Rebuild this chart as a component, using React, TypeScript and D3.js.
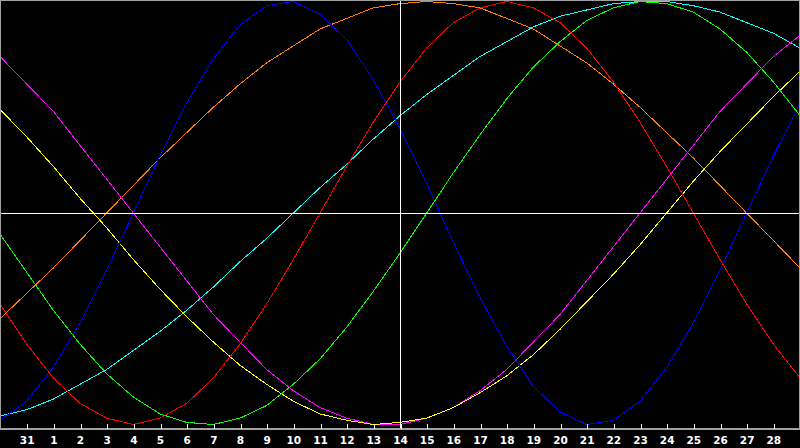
import { useRef, useEffect } from "react";
import * as d3 from "d3";

// one value per day, -100..100, from the left edge (day 0) to the right edge (day 30)
const physical = [-98, -89, -73, -52, -27, 0, 27, 52, 73, 89, 98, 100, 94, 82, 63, 40, 14, -14, -40, -63, -82, -94, -100, -98, -89, -73, -52, -27, 0, 27, 52];
const emotional = [-43, -62, -78, -90, -97, -100, -97, -90, -78, -62, -43, -22, 0, 22, 43, 62, 78, 90, 97, 100, 97, 90, 78, 62, 43, 22, 0, -22, -43, -62, -78];
const intellectual = [-10, -28, -46, -62, -76, -87, -95, -99, -100, -97, -91, -81, -69, -54, -37, -19, 0, 19, 37, 54, 69, 81, 91, 97, 100, 99, 95, 87, 76, 62, 46];
const intuitive = [74, 61, 48, 32, 16, 0, -16, -32, -48, -61, -74, -84, -92, -97, -100, -100, -97, -92, -84, -74, -61, -48, -32, -16, 0, 16, 32, 48, 61, 74, 84];
const aesthetic = [49, 36, 22, 7, -7, -22, -36, -49, -61, -72, -81, -89, -95, -98, -100, -99, -97, -92, -85, -77, -67, -55, -42, -29, -15, 0, 15, 29, 42, 55, 67];
const awareness = [-50, -38, -26, -13, 0, 13, 26, 38, 50, 61, 71, 79, 87, 92, 97, 99, 100, 99, 97, 92, 87, 79, 71, 61, 50, 38, 26, 13, 0, -13, -26];
const spiritual = [-96, -93, -88, -81, -74, -65, -56, -46, -35, -23, -12, 0, 12, 23, 35, 46, 56, 65, 74, 81, 88, 93, 96, 99, 100, 100, 98, 95, 90, 85, 78];

// day-of-month labels for ticks 1..29
const tickLabels = ["31", "1", "2", "3", "4", "5", "6", "7", "8", "9", "10", "11", "12", "13", "14", "15", "16", "17", "18", "19", "20", "21", "22", "23", "24", "25", "26", "27", "28"];

const series = [
  { values: awareness, color: "#ff8000" },
  { values: spiritual, color: "#00ffff" },
  { values: intuitive, color: "#ff00ff" },
  { values: aesthetic, color: "#ffff00" },
  { values: physical, color: "#0000ff" },
  { values: emotional, color: "#ff0000" },
  { values: intellectual, color: "#00ff00" },
];

const W = 800;
const H = 448;
const AXIS_Y = 428;

export default function App() {
  const svgRef = useRef<SVGSVGElement>(null);

  useEffect(() => {
    if (!svgRef.current) return;
    const svg = d3.select(svgRef.current);
    svg.selectAll("*").remove();

    const days = physical.length - 1;
    const x = d3.scaleLinear().domain([0, days]).range([0, W]);
    const y = d3.scaleLinear().domain([-100, 100]).range([424.5, 1.5]);

    svg.append("rect").attr("width", W).attr("height", H).attr("fill", "#000");

    // curves
    const line = d3
      .line<number>()
      .x((_, i) => x(i))
      .y((d) => y(d));

    for (const s of series) {
      svg
        .append("path")
        .attr("d", line(s.values))
        .attr("fill", "none")
        .attr("stroke", s.color)
        .attr("stroke-width", 1)
        .attr("shape-rendering", "crispEdges");
    }

    // centre cross
    svg
      .append("line")
      .attr("x1", 0)
      .attr("x2", W)
      .attr("y1", Math.round(y(0)) + 0.5)
      .attr("y2", Math.round(y(0)) + 0.5)
      .attr("stroke", "#fff")
      .attr("shape-rendering", "crispEdges");
    svg
      .append("line")
      .attr("x1", x(days / 2) + 0.5)
      .attr("x2", x(days / 2) + 0.5)
      .attr("y1", 0)
      .attr("y2", AXIS_Y)
      .attr("stroke", "#fff")
      .attr("shape-rendering", "crispEdges");

    // frame
    svg
      .append("rect")
      .attr("x", 0.5)
      .attr("y", 0.5)
      .attr("width", W - 1)
      .attr("height", AXIS_Y)
      .attr("fill", "none")
      .attr("stroke", "#a0a0a0")
      .attr("shape-rendering", "crispEdges");

    // day axis
    const axis = d3
      .axisBottom(x)
      .tickValues(d3.range(1, days))
      .tickSize(-5)
      .tickPadding(10)
      .tickFormat((d) => tickLabels[(d as number) - 1]);

    const g = svg
      .append("g")
      .attr("transform", `translate(0,${AXIS_Y + 0.5})`)
      .call(axis);
    g.select(".domain").attr("stroke", "#a0a0a0").attr("shape-rendering", "crispEdges");
    g.selectAll(".tick line")
      .attr("stroke", "#fff")
      .attr("shape-rendering", "crispEdges")
      .attr("transform", "translate(0.5,0)");
    g.selectAll(".tick text")
      .attr("fill", "#fff")
      .attr("dy", "0")
      .attr("y", 15)
      .style("font-family", "'DejaVu Sans', sans-serif")
      .style("font-weight", "bold")
      .style("font-size", "10.5px");
  }, []);

  return (
    <>
      <style>{`body{margin:0;background:#000;overflow:hidden}`}</style>
      <svg ref={svgRef} width={W} height={H} style={{ display: "block" }} />
    </>
  );
}
